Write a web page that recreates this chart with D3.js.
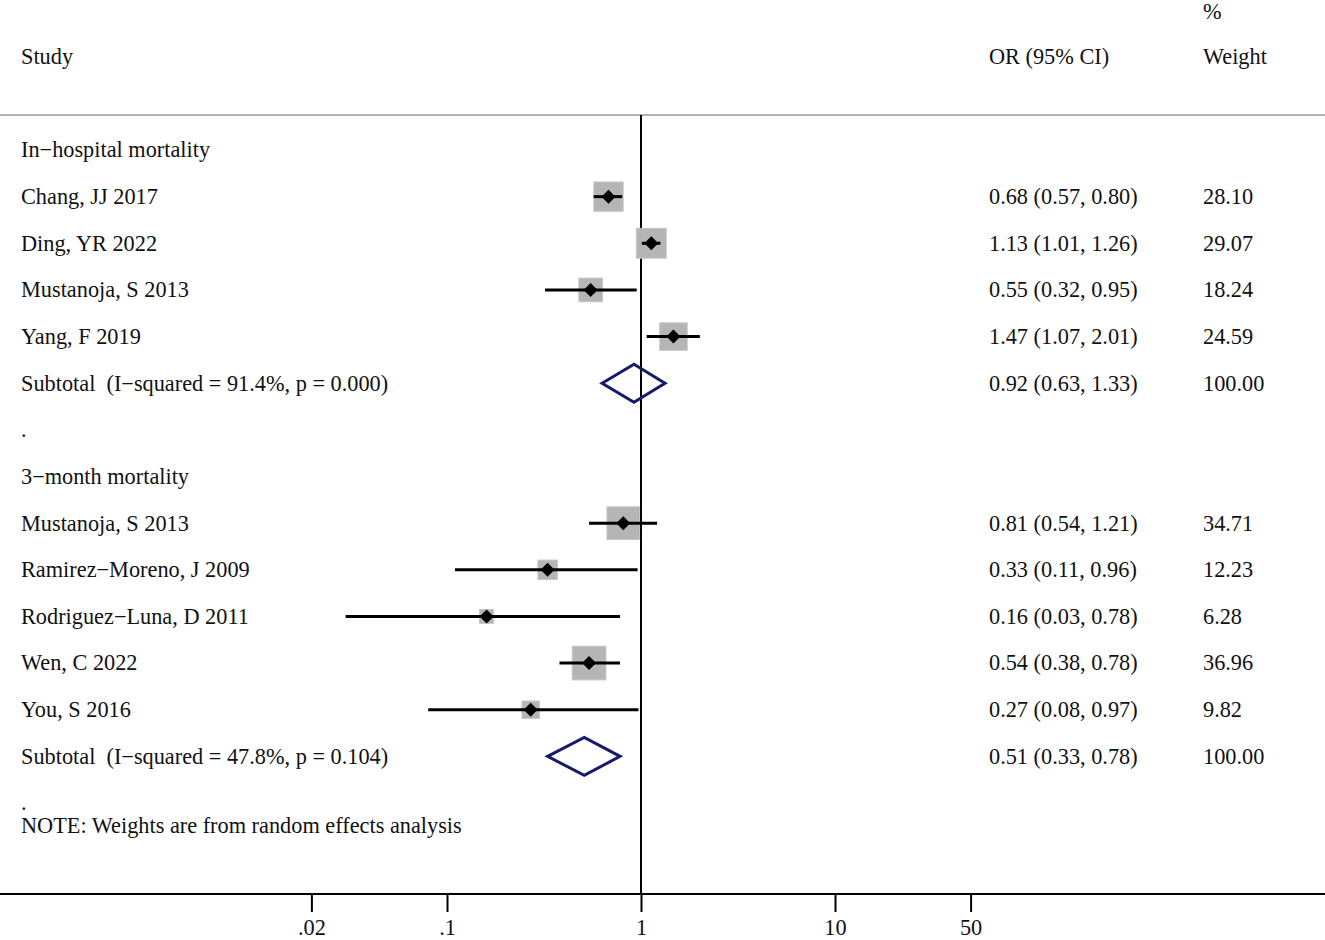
<!DOCTYPE html>
<html>
<head>
<meta charset="utf-8">
<script src="https://cdn.jsdelivr.net/npm/d3@7"></script>
<style>
  body { margin: 0; background: #fff; }
  svg text { font-family: "Liberation Serif", "Times New Roman", serif; font-size: 22.3px; fill: #111; white-space: pre; }
</style>
</head>
<body>
<div id="chart"></div>
<script>
// study level data
const studies = [
  "Chang, JJ 2017", "Ding, YR 2022", "Mustanoja, S 2013", "Yang, F 2019",
  "Mustanoja, S 2013", "Ramirez\u2212Moreno, J 2009", "Rodriguez\u2212Luna, D 2011",
  "Wen, C 2022", "You, S 2016"
];
const studyGroup = [0, 0, 0, 0, 1, 1, 1, 1, 1];
const studyOR = [0.68, 1.13, 0.55, 1.47, 0.81, 0.33, 0.16, 0.54, 0.27];
const studyLower = [0.57, 1.01, 0.32, 1.07, 0.54, 0.11, 0.03, 0.38, 0.08];
const studyUpper = [0.80, 1.26, 0.95, 2.01, 1.21, 0.96, 0.78, 0.78, 0.97];
const studyWeight = [28.10, 29.07, 18.24, 24.59, 34.71, 12.23, 6.28, 36.96, 9.82];

// subgroup data
const groups = ["In\u2212hospital mortality", "3\u2212month mortality"];
const subtotalLabels = [
  "Subtotal  (I\u2212squared = 91.4%, p = 0.000)",
  "Subtotal  (I\u2212squared = 47.8%, p = 0.104)"
];
const subOR = [0.92, 0.51];
const subLower = [0.63, 0.33];
const subUpper = [1.33, 0.78];

const tickValues = [0.02, 0.1, 1, 10, 50];
const tickLabels = [".02", ".1", "1", "10", "50"];

const noteText = "NOTE: Weights are from random effects analysis";

const width = 1325, height = 940;
const svg = d3.select("#chart").append("svg")
  .attr("width", width).attr("height", height);

const fmt = d3.format(".2f");

// build the rows
var rows = [];
groups.forEach(function (g, gi) {
  rows.push({ type: "group", label: g });
  for (var i = 0; i < studies.length; i++) {
    if (studyGroup[i] === gi) {
      rows.push({
        type: "study", label: studies[i], or: studyOR[i],
        lo: studyLower[i], hi: studyUpper[i], w: studyWeight[i]
      });
    }
  }
  rows.push({
    type: "subtotal", label: subtotalLabels[gi], or: subOR[gi],
    lo: subLower[gi], hi: subUpper[gi], w: 100
  });
  rows.push({ type: "spacer", label: "." });
});

const x = d3.scaleLog().domain([1, 10]).range([641, 835]);
const y = d3.scaleLinear().domain([0, rows.length - 1]).range([150, 803]);
const box = d3.scaleSqrt().domain([0, 40]).range([0, 35]);

const plotTop = 115, axisY = 894;

// header
svg.append("line")
  .attr("x1", 0).attr("x2", width)
  .attr("y1", plotTop).attr("y2", plotTop)
  .attr("stroke", "#b4b4b4").attr("stroke-width", 2);

svg.append("text").attr("x", 21).attr("y", 57).attr("dy", "0.33em").text("Study");
svg.append("text").attr("x", 989).attr("y", 57).attr("dy", "0.33em").text("OR (95% CI)");
svg.append("text").attr("x", 1203).attr("y", 12).attr("dy", "0.33em").text("%");
svg.append("text").attr("x", 1203).attr("y", 57).attr("dy", "0.33em").text("Weight");

// null line
svg.append("line")
  .attr("x1", x(1)).attr("x2", x(1))
  .attr("y1", plotTop).attr("y2", axisY)
  .attr("stroke", "#000").attr("stroke-width", 2);

// row labels
svg.selectAll(".row-label")
  .data(rows)
  .enter()
  .append("text")
  .attr("class", "row-label")
  .attr("x", 21)
  .attr("y", function (d, i) { return y(i); })
  .attr("dy", "0.33em")
  .attr("xml:space", "preserve")
  .text(function (d) { return d.label; });

var estRows = rows
  .map(function (d, i) { return Object.assign({ idx: i }, d); })
  .filter(function (d) { return d.type === "study" || d.type === "subtotal"; });

svg.selectAll(".or-label")
  .data(estRows)
  .enter()
  .append("text")
  .attr("x", 989)
  .attr("y", function (d) { return y(d.idx); })
  .attr("dy", "0.33em")
  .text(function (d) { return fmt(d.or) + " (" + fmt(d.lo) + ", " + fmt(d.hi) + ")"; });

svg.selectAll(".w-label")
  .data(estRows)
  .enter()
  .append("text")
  .attr("x", 1203)
  .attr("y", function (d) { return y(d.idx); })
  .attr("dy", "0.33em")
  .text(function (d) { return fmt(d.w); });

// study marks
var studyRows = estRows.filter(function (d) { return d.type === "study"; });

svg.selectAll(".wbox")
  .data(studyRows)
  .enter()
  .append("rect")
  .attr("x", function (d) { return x(d.or) - box(d.w) / 2; })
  .attr("y", function (d) { return y(d.idx) - box(d.w) / 2; })
  .attr("width", function (d) { return box(d.w); })
  .attr("height", function (d) { return box(d.w); })
  .attr("fill", "#b5b5b5")
  .attr("stroke", "#c4c4c4")
  .attr("stroke-width", 1);

svg.selectAll(".ci")
  .data(studyRows)
  .enter()
  .append("line")
  .attr("x1", function (d) { return x(d.lo); })
  .attr("x2", function (d) { return x(d.hi); })
  .attr("y1", function (d) { return y(d.idx); })
  .attr("y2", function (d) { return y(d.idx); })
  .attr("stroke", "#000")
  .attr("stroke-width", 3);

svg.selectAll(".est")
  .data(studyRows)
  .enter()
  .append("path")
  .attr("d", d3.symbol(d3.symbolSquare, 98))
  .attr("transform", function (d) {
    return "translate(" + x(d.or) + "," + y(d.idx) + ") rotate(45)";
  })
  .attr("fill", "#000");

// pooled diamonds
var subRows = estRows.filter(function (d) { return d.type === "subtotal"; });

svg.selectAll(".pooled")
  .data(subRows)
  .enter()
  .append("path")
  .attr("d", function (d) {
    var cy = y(d.idx), h = 19;
    return "M" + x(d.lo) + "," + cy +
      "L" + x(d.or) + "," + (cy - h) +
      "L" + x(d.hi) + "," + cy +
      "L" + x(d.or) + "," + (cy + h) + "Z";
  })
  .attr("fill", "none")
  .attr("stroke", "#151b66")
  .attr("stroke-width", 3)
  .attr("stroke-linejoin", "miter");

// note
svg.append("text").attr("x", 21).attr("y", 826).attr("dy", "0.33em").text(noteText);

// axis
svg.append("line")
  .attr("x1", 0).attr("x2", width)
  .attr("y1", axisY).attr("y2", axisY)
  .attr("stroke", "#000").attr("stroke-width", 2);

var xAxis = d3.axisBottom(x)
  .tickValues(tickValues)
  .tickFormat(function (d, i) { return tickLabels[i]; })
  .tickSize(18)
  .tickPadding(7);

var axisG = svg.append("g")
  .attr("transform", "translate(0," + axisY + ")")
  .call(xAxis);

axisG.select(".domain").remove();
axisG.selectAll(".tick line").attr("stroke", "#000").attr("stroke-width", 2);
axisG.selectAll(".tick text")
  .attr("font-family", null)
  .attr("font-size", null)
  .style("font-family", "'Liberation Serif', 'Times New Roman', serif")
  .style("font-size", "22.3px")
  .attr("fill", "#111");
</script>
</body>
</html>
